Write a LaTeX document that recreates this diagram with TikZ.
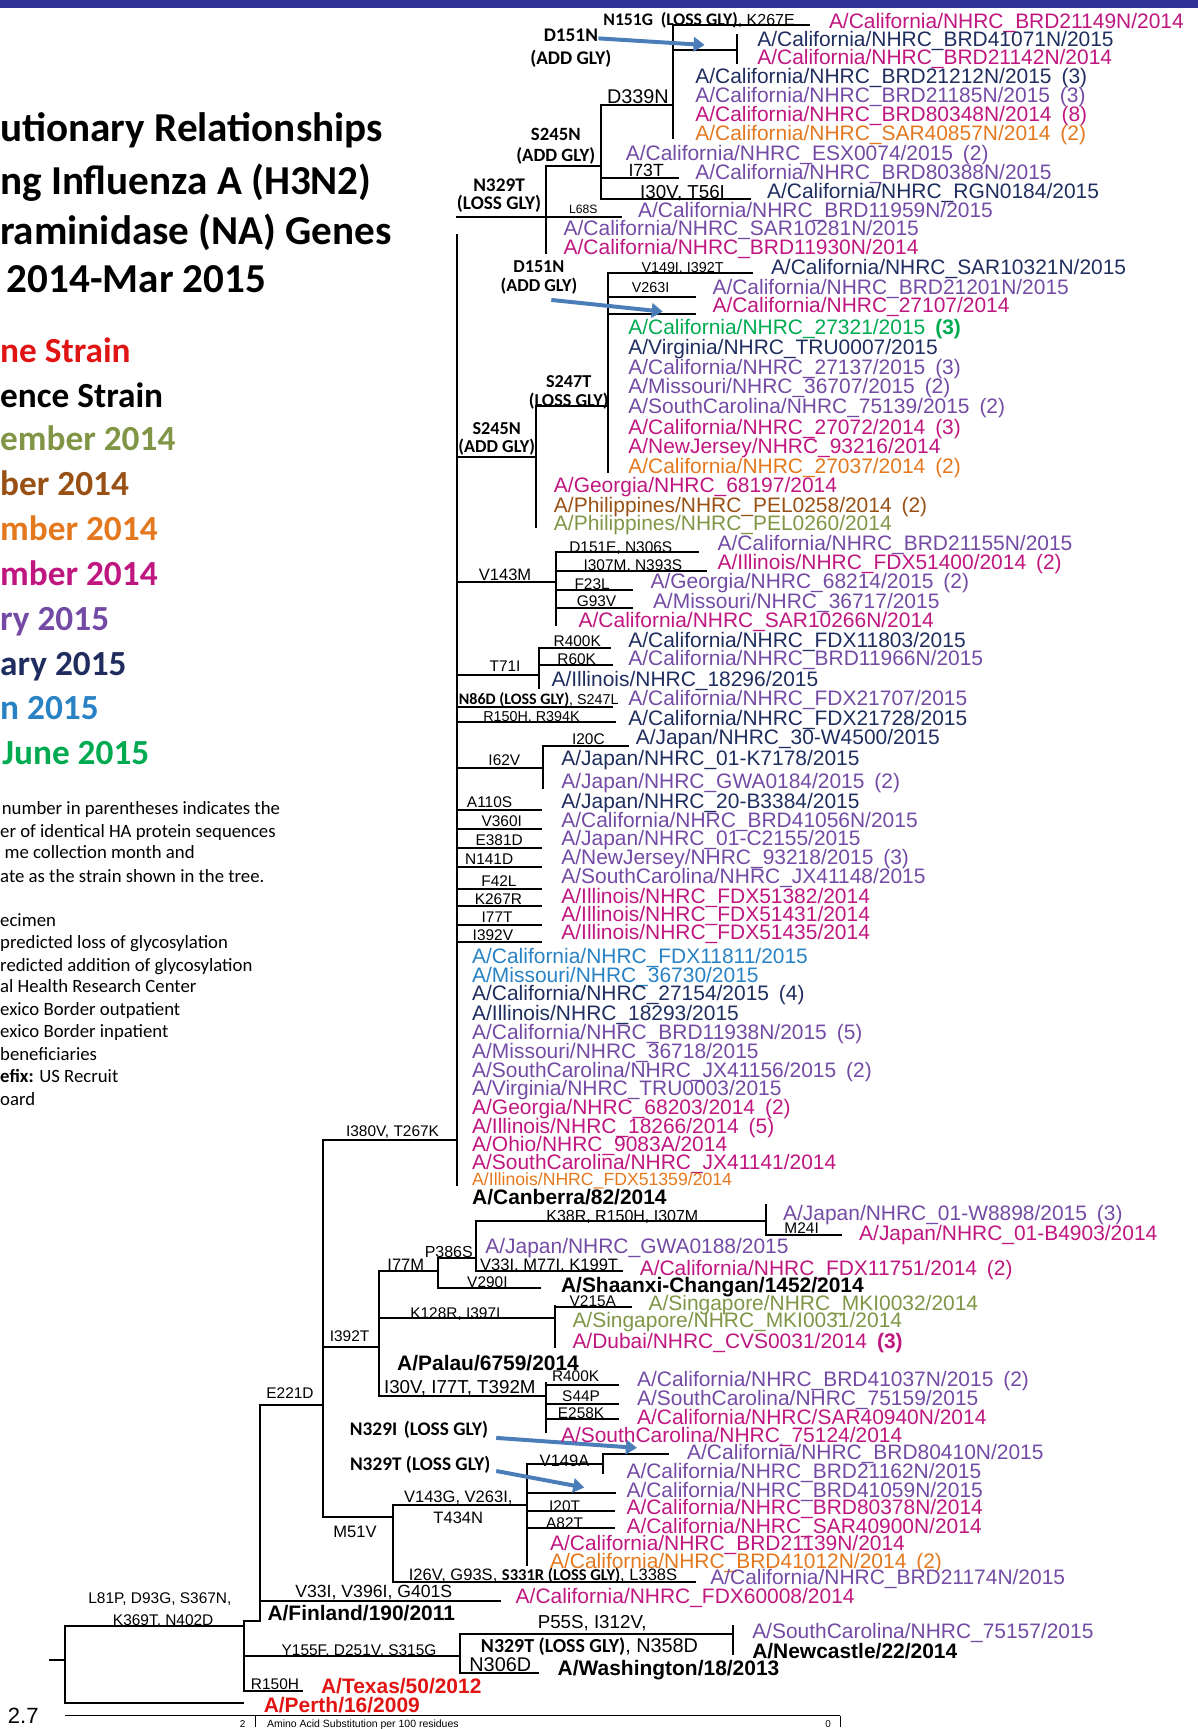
\documentclass[tikz,border=0pt]{standalone}
\usepackage{fontspec}
\setmainfont{Liberation Sans}
\newfontfamily\calfont{Carlito}
\usetikzlibrary{arrows.meta}
\definecolor{barblue}{RGB}{50,50,150}
\definecolor{arrowblue}{RGB}{75,125,185}
\definecolor{kred}{RGB}{225,20,20}
\definecolor{kolive}{RGB}{128,150,70}
\definecolor{kbrown}{RGB}{152,80,20}
\definecolor{korange}{RGB}{228,120,30}
\definecolor{kmagenta}{RGB}{192,22,128}
\definecolor{kpurple}{RGB}{115,75,165}
\definecolor{knavy}{RGB}{31,45,95}
\definecolor{kblue}{RGB}{40,130,195}
\definecolor{kgreen}{RGB}{0,170,80}

\begin{document}
\begin{tikzpicture}[x=1pt, y=-1pt,
  leaf/.style={anchor=west, inner sep=0pt, text height=13.6pt, text depth=0pt, font=\fontsize{19}{19}\selectfont},
  refstrain/.style={leaf, font=\fontsize{19}{19}\selectfont\bfseries},
  mut/.style={inner sep=0pt, text height=10pt, text depth=0pt, font=\fontsize{14}{14}\selectfont},
  bigmut/.style={inner sep=0pt, text height=11.5pt, text depth=0pt, font=\fontsize{16}{16}\selectfont},
  gly/.style={inner sep=0pt, text height=11.2pt, text depth=0pt, font=\calfont\bfseries\fontsize{17.5}{17.5}\selectfont},
  branch/.style={line width=1.8pt, line cap=rect},
  shiftarrow/.style={draw=arrowblue, line width=3.6pt, -{Triangle[length=10pt,width=13pt]}},
  titletext/.style={anchor=west, inner sep=0pt, text height=20pt, text depth=0pt, font=\calfont\bfseries\fontsize{37.3}{37.3}\selectfont},
  keytext/.style={anchor=west, inner sep=0pt, text height=20pt, text depth=0pt, font=\calfont\bfseries\fontsize{32}{32}\selectfont},
  notetext/.style={anchor=west, inner sep=0pt, text height=9pt, text depth=0pt, font=\calfont\fontsize{17}{17}\selectfont}]
\useasboundingbox (0,0) rectangle (1086,1568);
%banner
\fill[barblue] (0,0) rectangle (1086,7.6);

%title
\node[titletext] (t1) at (0,118) {utionary Relationships};
\node[titletext] (t2) at (0,166) {ng Influenza A (H3N2)};
\node[titletext] (t3) at (0,211.6) {raminidase (NA) Genes};
\node[titletext] (t4) at (6,255.4) {2014-Mar 2015};

%legend
\node[keytext, kred] (k1) at (0,318.8) {ne Strain};
\node[keytext, black] (k2) at (0,359.6) {ence Strain};
\node[keytext, kolive] (k3) at (0,398.9) {ember 2014};
\node[keytext, kbrown] (k4) at (0,439.7) {ber 2014};
\node[keytext, korange] (k5) at (0,480.5) {mber 2014};
\node[keytext, kmagenta] (k6) at (0,521.3) {mber 2014};
\node[keytext, kpurple] (k7) at (0,562) {ry 2015};
\node[keytext, knavy] (k8) at (0,602.9) {ary 2015};
\node[keytext, kblue] (k9) at (0,642.2) {n 2015};
\node[keytext, kgreen] (k10) at (2,683) {June 2015};

%notes
\node[notetext] (n1) at (1.5,734.4) {number in parentheses indicates the};
\node[notetext] (n2) at (0,754.9) {er of identical HA protein sequences};
\node[notetext] (n3) at (4,774.3) {me collection month and};
\node[notetext] (n4) at (0,795.4) {ate as the strain shown in the tree.};
\node[notetext] (n5) at (0,835.6) {ecimen};
\node[notetext] (n6) at (0,855.8) {predicted loss of glycosylation};
\node[notetext] (n7) at (0,876.4) {redicted addition of glycosylation};
\node[notetext] (n8) at (0,896) {al Health Research Center};
\node[notetext] (n9) at (0,916.6) {exico Border outpatient};
\node[notetext] (n10) at (0,936.8) {exico Border inpatient};
\node[notetext] (n11) at (0,957.4) {beneficiaries};
\node[notetext] (n12) at (0,977.1) {\textbf{efix:} US Recruit};
\node[notetext] (n13) at (0,998.2) {oard};

%tree - top clade
\draw[branch] (414.5,196.4) -- (563,196.4);%N329T, L68S
\draw[branch] (495.5,150.2) -- (495.5,229.7);
\draw[branch] (495.5,150.2) -- (545,150.2);%S245N
\draw[branch] (545,95.2) -- (545,180.4);
\draw[branch] (545,95.2) -- (610,95.2);%D339N
\draw[branch] (545,161) -- (614.7,161);%I73T
\draw[branch] (545,180.4) -- (680,180.4);%I30V
\draw[branch] (610,22.7) -- (610,125.4);
\draw[branch] (610,22.7) -- (734,22.7);%N151G
\draw[branch] (610,45.3) -- (668.6,45.3);
\draw[branch] (668.6,31.7) -- (668.6,57.4);
%backbone
\draw[branch] (414.5,213) -- (414.5,1074.3);
%S245N clade
\draw[branch] (414.5,414.1) -- (486.5,414.1);
\draw[branch] (486.5,368.6) -- (486.5,477.5);
\draw[branch] (486.5,368.6) -- (551.7,368.6);%S247T
\draw[branch] (551.7,247.8) -- (551.7,427.6);
\draw[branch] (551.7,247.8) -- (682,247.8);%V149I
\draw[branch] (551.7,268.9) -- (630.4,268.9);%V263I
\draw[branch] (551.7,284.7) -- (630.4,284.7);
%V143M clade
\draw[branch] (414.5,527.4) -- (504.4,527.4);
\draw[branch] (504.4,501) -- (504.4,566.6);
\draw[branch] (504.4,501) -- (632.6,501);
\draw[branch] (504.4,517.4) -- (640.7,517.4);
\draw[branch] (504.4,534.9) -- (573.2,534.9);
\draw[branch] (504.4,551.5) -- (573.2,551.5);
%T71I clade
\draw[branch] (414.5,612) -- (488.7,612);
\draw[branch] (488.7,587.7) -- (488.7,623.8);
\draw[branch] (488.7,587.7) -- (552.9,587.7);
\draw[branch] (488.7,603.5) -- (555,603.5);
\draw[branch] (414.5,641.2) -- (555,641.2);%N86D
\draw[branch] (414.5,654.7) -- (558,654.7);%R150H
%I62V clade
\draw[branch] (414.5,696.4) -- (492,696.4);
\draw[branch] (492,676.3) -- (492,714.7);
\draw[branch] (492,676.3) -- (569.7,676.3);
%single branches
\foreach \yy in {734.4,751.9,769,786.6,805.9,822,838.6,854.4}
  \draw[branch] (414.5,\yy) -- (491,\yy);

%lower part
\draw[branch] (293,1033.5) -- (414.5,1033.5);%I380V
\draw[branch] (293,1033.5) -- (293,1376);
\draw[branch] (235.5,1274) -- (293,1274);%E221D
\draw[branch] (293,1222) -- (344,1222);%I392T
\draw[branch] (344,1153) -- (344,1266);
\draw[branch] (344,1153) -- (397,1153);%I77M
\draw[branch] (397,1141) -- (397,1168);
\draw[branch] (397,1141) -- (432,1141);%P386S
\draw[branch] (432,1107.6) -- (432,1153);
\draw[branch] (432,1107.6) -- (694.5,1107.6);%K38R
\draw[branch] (694.5,1092.6) -- (694.5,1119.7);
\draw[branch] (694.5,1119.7) -- (763,1119.7);%M24I
\draw[branch] (432,1153) -- (564,1153);%V33I
\draw[branch] (397,1168) -- (490,1168);%V290I
\draw[branch] (344,1195) -- (503,1195);%K128R
\draw[branch] (503,1184.7) -- (503,1222);
\draw[branch] (503,1185) -- (572,1185);%V215A
\draw[branch] (344,1266) -- (495,1266);%I30V
\draw[branch] (495,1254) -- (495,1299);
\draw[branch] (495,1255.8) -- (560,1255.8);
\draw[branch] (495,1273) -- (560,1273);
\draw[branch] (495,1287) -- (560,1287);
\draw[branch] (293,1376) -- (356.7,1376);%M51V
\draw[branch] (356.7,1364.5) -- (356.7,1435);
\draw[branch] (356.7,1364.5) -- (478,1364.5);%V143G
\draw[branch] (478,1328) -- (478,1419);
\draw[branch] (478,1328) -- (547,1328);%V149A
\draw[branch] (547,1319) -- (547,1335.6);
\draw[branch] (547,1319) -- (606,1319);
\draw[branch] (478,1353.6) -- (557.5,1353.6);
\draw[branch] (478,1370.5) -- (557,1370.5);%I20T
\draw[branch] (478,1386) -- (557,1386);%A82T
\draw[branch] (356.7,1435) -- (630,1435);%I26V
\draw[branch] (235.5,1274) -- (235.5,1470);
\draw[branch] (235.5,1451.5) -- (453.6,1451.5);%V33I
\draw[branch] (221.6,1470) -- (235.5,1470);
\draw[branch] (221.6,1470) -- (221.6,1533.7);
\draw[branch] (59,1474.7) -- (221.6,1474.7);%L81P
\draw[branch] (221.6,1533.7) -- (273.6,1533.7);%R150H
\draw[branch] (221.6,1501.4) -- (417.6,1501.4);%Y155F
\draw[branch] (417.6,1481.7) -- (417.6,1517);
\draw[branch] (417.6,1481.7) -- (665,1481.7);
\draw[branch] (665,1474.7) -- (665,1500);
\draw[branch] (417.6,1517) -- (488,1517);%N306D
%root
\draw[branch] (59,1474.7) -- (59,1544.2);
\draw[branch] (59,1544.2) -- (220,1544.2);
\draw[branch] (45,1505) -- (59,1505);

%mutation labels
\node[gly, anchor=west, font=\calfont\bfseries\fontsize{16}{16}\selectfont, text height=10.3pt] (g1) at (547,18) {N151G\hspace{7pt}(LOSS GLY){\normalfont\fontsize{14.5}{14.5}\selectfont, K267E}};
\node[gly] (g2) at (517.7,31.7) {D151N};
\node[gly] (g2b) at (517.7,52.9) {(ADD GLY)};
\node[bigmut, font=\fontsize{18}{18}\selectfont, text height=13pt] (m1) at (578.5,87.6) {D339N};
\node[gly, font=\calfont\bfseries\fontsize{17}{17}\selectfont] (g3) at (504,122) {S245N};
\node[gly, font=\calfont\bfseries\fontsize{17}{17}\selectfont] (g3b) at (504,140.5) {(ADD GLY)};
\node[bigmut] (m2) at (586,154) {I73T};
\node[bigmut, font=\fontsize{17}{17}\selectfont] (m3) at (619,174.7) {I30V, T56I};
\node[gly] (g4) at (452.6,167.7) {N329T};
\node[gly] (g4b) at (452.6,184.3) {(LOSS GLY)};
\node[mut, font=\fontsize{11}{11}\selectfont, text height=8pt] (m4) at (529,190) {L68S};
\node[gly, font=\calfont\bfseries\fontsize{16.5}{16.5}\selectfont] (g5) at (488.7,241.8) {D151N};
\node[gly, font=\calfont\bfseries\fontsize{16.5}{16.5}\selectfont] (g5b) at (488.7,258.4) {(ADD GLY)};
\node[mut, font=\fontsize{13}{13}\selectfont] (m5) at (619,241.8) {V149I, I392T};
\node[mut, font=\fontsize{13}{13}\selectfont] (m6) at (590,259.9) {V263I};
\node[gly, font=\calfont\bfseries\fontsize{16.5}{16.5}\selectfont] (g6) at (515.7,345.8) {S247T};
\node[gly, font=\calfont\bfseries\fontsize{16.5}{16.5}\selectfont] (g6b) at (515.7,362.6) {(LOSS GLY)};
\node[gly, font=\calfont\bfseries\fontsize{16.5}{16.5}\selectfont] (g7) at (450.5,388) {S245N};
\node[gly, font=\calfont\bfseries\fontsize{16.5}{16.5}\selectfont] (g7b) at (450.5,404.9) {(ADD GLY)};
\node[mut] (m7) at (563,495.6) {D151E, N306S};
\node[mut] (m8) at (574,512) {I307M, N393S};
\node[mut] (m9) at (537,529.4) {F23L};
\node[mut] (m10) at (541,545.4) {G93V};
\node[mut, font=\fontsize{15}{15}\selectfont] (m11) at (458,521.3) {V143M};
\node[mut] (m12) at (523.5,581.7) {R400K};
\node[mut] (m13) at (523,597.7) {R60K};
\node[mut] (m14) at (458,603.8) {T71I};
\node[gly, anchor=west, font=\calfont\bfseries\fontsize{14.5}{14.5}\selectfont, text height=9.4pt] (g8) at (416,634.6) {N86D (LOSS GLY){\normalfont\fontsize{13}{13}\selectfont, S247L}};
\node[mut, font=\fontsize{13}{13}\selectfont] (m15) at (482,649.7) {R150H, R394K};
\node[mut] (m16) at (533.6,670) {I20C};
\node[mut] (m17) at (457.4,688.9) {I62V};
\node[mut] (m18) at (444,727.4) {A110S};
\node[mut] (m19) at (455,744.9) {V360I};
\node[mut] (m20) at (452.7,762) {E381D};
\node[mut] (m21) at (443.6,779) {N141D};
\node[mut] (m22) at (452.5,799.3) {F42L};
\node[mut] (m23) at (452,815.3) {K267R};
\node[mut] (m24) at (450.8,831.6) {I77T};
\node[mut] (m25) at (447,847.7) {I392V};
\node[mut] (m26) at (356,1026) {I380V, T267K};
\node[mut, font=\fontsize{14.5}{14.5}\selectfont] (m27) at (564.4,1103) {K38R, R150H, I307M};
\node[mut] (m28) at (727,1113.6) {M24I};
\node[mut, font=\fontsize{14.5}{14.5}\selectfont] (m29) at (407,1135) {P386S};
\node[mut, font=\fontsize{15}{15}\selectfont] (m30) at (498,1147) {V33I, M77I, K199T};
\node[mut, font=\fontsize{15}{15}\selectfont] (m31) at (368,1147) {I77M};
\node[mut] (m32) at (442,1163) {V290I};
\node[mut] (m33) at (413,1191) {K128R, I397I};
\node[mut] (m34) at (537.6,1180) {V215A};
\node[mut] (m35) at (317,1212) {I392T};
\node[bigmut, font=\fontsize{17}{17}\selectfont, text height=12.2pt] (m36) at (417,1258) {I30V, I77T, T392M};
\node[mut] (m37) at (522,1248) {R400K};
\node[mut] (m38) at (527,1266) {S44P};
\node[mut] (m39) at (527,1281) {E258K};
\node[mut] (m40) at (263,1263) {E221D};
\node[gly] (g9) at (380,1296) {N329I\hspace{6pt}(LOSS GLY)};
\node[gly] (g10) at (381,1328) {N329T (LOSS GLY)};
\node[mut, font=\fontsize{15}{15}\selectfont] (m41) at (512,1325) {V149A};
\node[mut] (m42) at (512,1366) {I20T};
\node[mut] (m43) at (512,1381) {A82T};
\node[bigmut, font=\fontsize{15}{15}\selectfont] (m44) at (415.6,1357) {V143G, V263I,};
\node[bigmut, font=\fontsize{15}{15}\selectfont] (m45) at (415.6,1376) {T434N};
\node[bigmut, font=\fontsize{15}{15}\selectfont] (m46) at (322,1388.6) {M51V};
\node[bigmut, anchor=west, font=\fontsize{15}{15}\selectfont] (m47) at (370.5,1428) {I26V, G93S, {\calfont\bfseries S331R (LOSS GLY)}, L338S};
\node[bigmut] (m48) at (339,1443) {V33I, V396I, G401S};
\node[mut] (m49) at (145,1449) {L81P, D93G, S367N,};
\node[mut] (m50) at (148,1469) {K369T, N402D};
\node[mut] (m51) at (325.6,1496) {Y155F, D251V, S315G};
\node[bigmut, font=\fontsize{17}{17}\selectfont, text height=12.2pt] (m52) at (537,1471) {P55S, I312V,};
\node[gly, anchor=west, font=\calfont\bfseries\fontsize{18}{18}\selectfont, text height=11.6pt] (g11) at (436,1493) {N329T (LOSS GLY){\normalfont\fontsize{18}{18}\selectfont, N358D}};
\node[bigmut, font=\fontsize{18}{18}\selectfont, text height=13pt] (m53) at (453.7,1509.5) {N306D};
\node[mut] (m54) at (249.4,1527.6) {R150H};

%glycosylation arrows
\coordinate (a1s) at (542.7,34.8);
\coordinate (a1e) at (639,40.8);
\coordinate (a2s) at (500,272);
\coordinate (a2e) at (601,282.6);
\coordinate (a3s) at (450,1304);
\coordinate (a3e) at (577.6,1313);
\coordinate (a4s) at (450,1334);
\coordinate (a4e) at (529.8,1349);
\draw[shiftarrow] (a1s) -- (a1e);
\draw[shiftarrow] (a2s) -- (a2e);
\draw[shiftarrow] (a3s) -- (a3e);
\draw[shiftarrow] (a4s) -- (a4e);

%strains
\node[leaf, kmagenta] (s1) at (751.6,18.7) {A/California/NHRC\_BRD21149N/2014};
\node[leaf, knavy] (s2) at (686.6,35.7) {A/California/NHRC\_BRD41071N/2015};
\node[leaf, kmagenta] (s3) at (686.6,52) {A/California/NHRC\_BRD21142N/2014};
\node[leaf, knavy] (s4) at (630.4,68.9) {A/California/NHRC\_BRD21212N/2015\hspace{9pt}(3)};
\node[leaf, kpurple] (s5) at (630.4,86.1) {A/California/NHRC\_BRD21185N/2015\hspace{9pt}(3)};
\node[leaf, kmagenta] (s6) at (630.4,103.3) {A/California/NHRC\_BRD80348N/2014\hspace{9pt}(8)};
\node[leaf, korange] (s7) at (630.4,120.9) {A/California/NHRC\_SAR40857N/2014\hspace{9pt}(2)};
\node[leaf, kpurple] (s8) at (567.4,139) {A/California/NHRC\_ESX0074/2015\hspace{9pt}(2)};
\node[leaf, kpurple] (s9) at (630.4,155.6) {A/California/NHRC\_BRD80388N/2015};
\node[leaf, knavy] (s10) at (695.5,172.9) {A/California/NHRC\_RGN0184/2015};
\node[leaf, kpurple] (s11) at (578.5,190.4) {A/California/NHRC\_BRD11959N/2015};
\node[leaf, kpurple] (s12) at (511,207) {A/California/NHRC\_SAR10281N/2015};
\node[leaf, kmagenta] (s13) at (511,224.2) {A/California/NHRC\_BRD11930N/2014};
\node[leaf, knavy] (s14) at (699,241.8) {A/California/NHRC\_SAR10321N/2015};
\node[leaf, kpurple] (s15) at (646,260) {A/California/NHRC\_BRD21201N/2015};
\node[leaf, kmagenta] (s16) at (646,276.5) {A/California/NHRC\_27107/2014};
\node[leaf, kgreen] (s17) at (569.7,296.2) {A/California/NHRC\_27321/2015\hspace{9pt}\textbf{(3)}};
\node[leaf, knavy] (s18) at (569.7,314.3) {A/Virginia/NHRC\_TRU0007/2015};
\node[leaf, kpurple] (s19) at (569.7,333) {A/California/NHRC\_27137/2015\hspace{9pt}(3)};
\node[leaf, kpurple] (s20) at (569.7,350.5) {A/Missouri/NHRC\_36707/2015\hspace{9pt}(2)};
\node[leaf, kpurple] (s21) at (569.7,368.6) {A/SouthCarolina/NHRC\_75139/2015\hspace{9pt}(2)};
\node[leaf, kmagenta] (s22) at (569.7,386.8) {A/California/NHRC\_27072/2014\hspace{9pt}(3)};
\node[leaf, kmagenta] (s23) at (569.7,404.9) {A/NewJersey/NHRC\_93216/2014};
\node[leaf, korange] (s24) at (569.7,423) {A/California/NHRC\_27037/2014\hspace{9pt}(2)};
\node[leaf, kmagenta] (s25) at (502.2,439.7) {A/Georgia/NHRC\_68197/2014};
\node[leaf, kbrown] (s26) at (502.2,457.8) {A/Philippines/NHRC\_PEL0258/2014\hspace{9pt}(2)};
\node[leaf, kolive] (s27) at (502.2,474.4) {A/Philippines/NHRC\_PEL0260/2014};
\node[leaf, kpurple] (s28) at (650.6,492.6) {A/California/NHRC\_BRD21155N/2015};
\node[leaf, kmagenta] (s29) at (650.6,509.8) {A/Illinois/NHRC\_FDX51400/2014\hspace{9pt}(2)};
\node[leaf, kpurple] (s30) at (589.8,527.3) {A/Georgia/NHRC\_68214/2015\hspace{9pt}(2)};
\node[leaf, kpurple] (s31) at (592,544.8) {A/Missouri/NHRC\_36717/2015};
\node[leaf, kmagenta] (s32) at (524.6,562.1) {A/California/NHRC\_SAR10266N/2014};
\node[leaf, knavy] (s33) at (569.7,580.2) {A/California/NHRC\_FDX11803/2015};
\node[leaf, kpurple] (s34) at (569.7,597) {A/California/NHRC\_BRD11966N/2015};
\node[leaf, knavy] (s35) at (500,615.9) {A/Illinois/NHRC\_18296/2015};
\node[leaf, kpurple] (s36) at (569.7,633.1) {A/California/NHRC\_FDX21707/2015};
\node[leaf, knavy] (s37) at (569.7,651.2) {A/California/NHRC\_FDX21728/2015};
\node[leaf, knavy] (s38) at (576.4,668.4) {A/Japan/NHRC\_30-W4500/2015};
\node[leaf, knavy] (s39) at (508.9,687.5) {A/Japan/NHRC\_01-K7178/2015};
\node[leaf, kpurple] (s40) at (508.9,708.7) {A/Japan/NHRC\_GWA0184/2015\hspace{9pt}(2)};
\node[leaf, knavy] (s41) at (508.9,726.8) {A/Japan/NHRC\_20-B3384/2015};
\node[leaf, kpurple] (s42) at (508.9,743.4) {A/California/NHRC\_BRD41056N/2015};
\node[leaf, kpurple] (s43) at (508.9,759.9) {A/Japan/NHRC\_01-C2155/2015};
\node[leaf, kpurple] (s44) at (508.9,777.2) {A/NewJersey/NHRC\_93218/2015\hspace{9pt}(3)};
\node[leaf, kpurple] (s45) at (508.9,794.1) {A/SouthCarolina/NHRC\_JX41148/2015};
\node[leaf, kmagenta] (s46) at (508.9,812.2) {A/Illinois/NHRC\_FDX51382/2014};
\node[leaf, kmagenta] (s47) at (508.9,828.5) {A/Illinois/NHRC\_FDX51431/2014};
\node[leaf, kmagenta] (s48) at (508.9,845.4) {A/Illinois/NHRC\_FDX51435/2014};
\node[leaf, kblue] (s49) at (428,866.8) {A/California/NHRC\_FDX11811/2015};
\node[leaf, kblue] (s50) at (428,883.9) {A/Missouri/NHRC\_36730/2015};
\node[leaf, knavy] (s51) at (428,900.9) {A/California/NHRC\_27154/2015\hspace{9pt}(4)};
\node[leaf, knavy] (s52) at (428,918.7) {A/Illinois/NHRC\_18293/2015};
\node[leaf, kpurple] (s53) at (428,935.9) {A/California/NHRC\_BRD11938N/2015\hspace{9pt}(5)};
\node[leaf, kpurple] (s54) at (428,953.4) {A/Missouri/NHRC\_36718/2015};
\node[leaf, kpurple] (s55) at (428,970) {A/SouthCarolina/NHRC\_JX41156/2015\hspace{9pt}(2)};
\node[leaf, kpurple] (s56) at (428,986.6) {A/Virginia/NHRC\_TRU0003/2015};
\node[leaf, kmagenta] (s57) at (428,1003.9) {A/Georgia/NHRC\_68203/2014\hspace{9pt}(2)};
\node[leaf, kmagenta] (s58) at (428,1020.8) {A/Illinois/NHRC\_18266/2014\hspace{9pt}(5)};
\node[leaf, kmagenta] (s59) at (428,1037.2) {A/Ohio/NHRC\_9083A/2014};
\node[leaf, kmagenta] (s60) at (428,1054.1) {A/SouthCarolina/NHRC\_JX41141/2014};
\node[leaf, korange, font=\fontsize{16}{16}\selectfont, text height=11.5pt] (s61) at (428,1069.7) {A/Illinois/NHRC\_FDX51359/2014};
\node[refstrain] (s62) at (428,1085.5) {A/Canberra/82/2014};
\node[leaf, kpurple] (s63) at (710,1100) {A/Japan/NHRC\_01-W8898/2015\hspace{9pt}(3)};
\node[leaf, kmagenta] (s64) at (779,1118) {A/Japan/NHRC\_01-B4903/2014};
\node[leaf, kpurple] (s65) at (440,1130) {A/Japan/NHRC\_GWA0188/2015};
\node[leaf, kmagenta] (s66) at (580,1150) {A/California/NHRC\_FDX11751/2014\hspace{9pt}(2)};
\node[refstrain] (s67) at (508.6,1165) {A/Shaanxi-Changan/1452/2014};
\node[leaf, kolive] (s68) at (588,1182) {A/Singapore/NHRC\_MKI0032/2014};
\node[leaf, kolive] (s69) at (519,1197) {A/Singapore/NHRC\_MKI0031/2014};
\node[leaf, kmagenta] (s70) at (519,1216) {A/Dubai/NHRC\_CVS0031/2014\hspace{9pt}\textbf{(3)}};
\node[refstrain] (s71) at (360,1236) {A/Palau/6759/2014};
\node[leaf, kpurple] (s72) at (577.6,1251) {A/California/NHRC\_BRD41037N/2015\hspace{9pt}(2)};
\node[leaf, kpurple] (s73) at (577.6,1268) {A/SouthCarolina/NHRC\_75159/2015};
\node[leaf, kmagenta] (s74) at (577.6,1285) {A/California/NHRC/SAR40940N/2014};
\node[leaf, kmagenta] (s75) at (508.6,1301) {A/SouthCarolina/NHRC\_75124/2014};
\node[leaf, kpurple] (s76) at (623,1317) {A/California/NHRC\_BRD80410N/2015};
\node[leaf, kpurple] (s77) at (568,1334) {A/California/NHRC\_BRD21162N/2015};
\node[leaf, kpurple] (s78) at (568,1351) {A/California/NHRC\_BRD41059N/2015};
\node[leaf, kmagenta] (s79) at (568,1367) {A/California/NHRC\_BRD80378N/2014};
\node[leaf, kmagenta] (s80) at (568,1383.6) {A/California/NHRC\_SAR40900N/2014};
\node[leaf, kmagenta] (s81) at (498.7,1399) {A/California/NHRC\_BRD21139N/2014};
\node[leaf, korange] (s82) at (498.7,1416) {A/California/NHRC\_BRD41012N/2014\hspace{9pt}(2)};
\node[leaf, kpurple] (s83) at (644,1430) {A/California/NHRC\_BRD21174N/2015};
\node[leaf, kmagenta] (s84) at (467.5,1447.6) {A/California/NHRC\_FDX60008/2014};
\node[refstrain] (s85) at (242.4,1462.5) {A/Finland/190/2011};
\node[leaf, kpurple] (s86) at (682,1479) {A/SouthCarolina/NHRC\_75157/2015};
\node[refstrain] (s87) at (682,1497.4) {A/Newcastle/22/2014};
\node[refstrain] (s88) at (505.6,1513) {A/Washington/18/2013};
\node[refstrain, kred] (s89) at (291,1529) {A/Texas/50/2012};
\node[refstrain, kred] (s90) at (239,1545.8) {A/Perth/16/2009};

%scale
\node[anchor=west, inner sep=0pt, text height=14pt, text depth=0pt, font=\fontsize{20}{20}\selectfont] (sc1) at (7,1556) {2.7};
\draw[line width=1.2pt] (59,1556) -- (762,1556);
\draw[line width=1.2pt] (232,1556) -- (232,1566);
\draw[line width=1.2pt] (762,1556) -- (762,1566);
\node[inner sep=0pt, text height=6.5pt, text depth=0pt, font=\fontsize{9}{9}\selectfont] (sc2) at (220,1563) {2};
\node[anchor=west, inner sep=0pt, text height=6.5pt, text depth=0pt, font=\fontsize{9.5}{9.5}\selectfont] (sc3) at (242,1563) {Amino Acid Substitution per 100 residues};
\node[inner sep=0pt, text height=6.5pt, text depth=0pt, font=\fontsize{9}{9}\selectfont] (sc4) at (751,1563) {0};
\end{tikzpicture}
\end{document}
